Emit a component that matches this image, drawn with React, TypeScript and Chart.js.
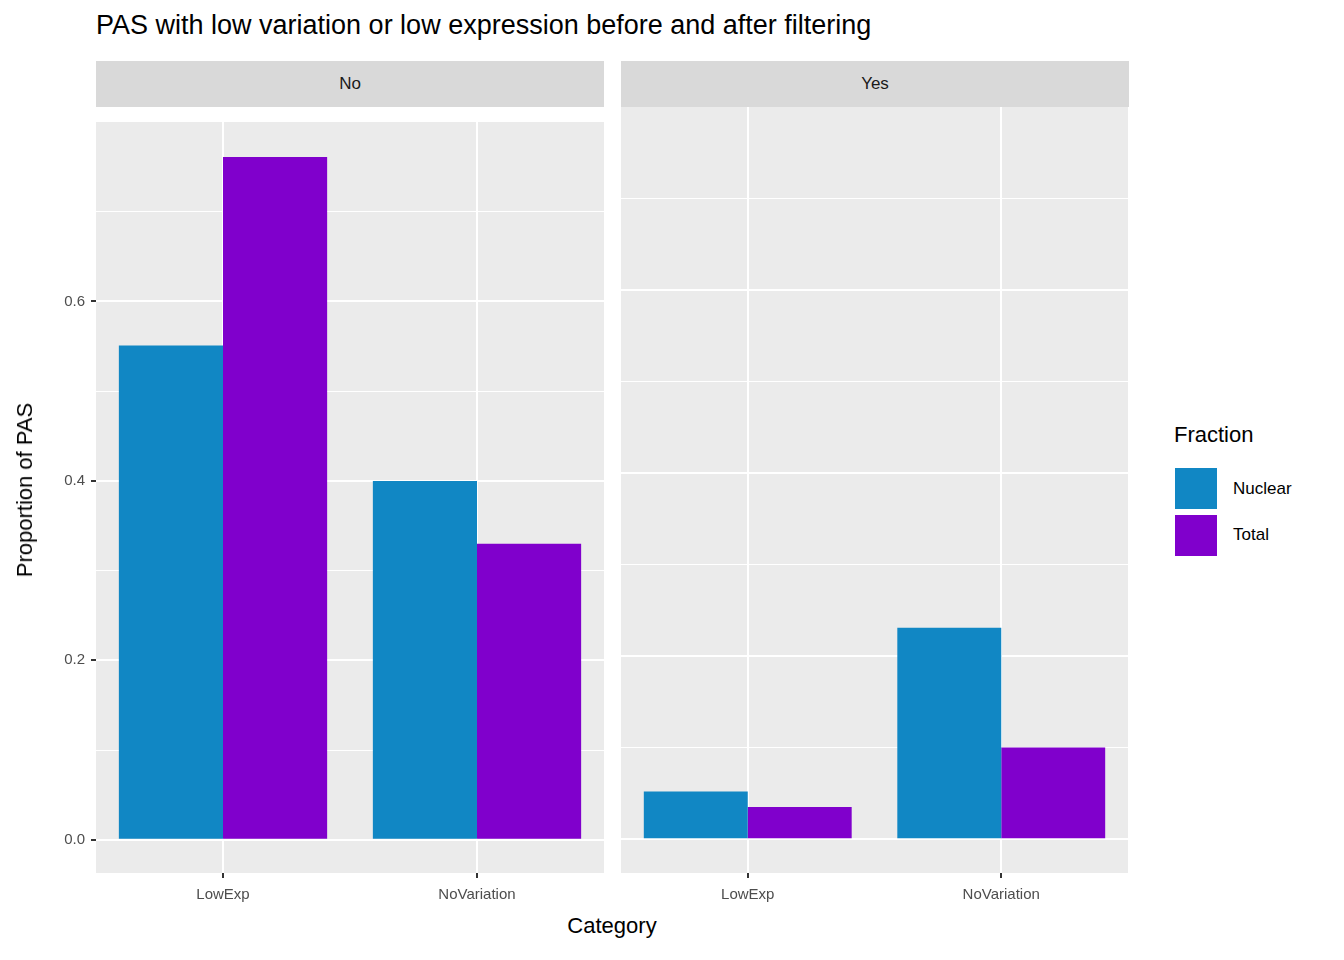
import React, { useEffect, useRef } from 'react';
import { Chart, registerables } from 'chart.js';

Chart.register(...registerables);

const categories = ['LowExp', 'NoVariation'];
const facets = ['No', 'Yes'];
const nuclearNo = [0.551, 0.4];
const totalNo = [0.761, 0.33];
const nuclearYes = [0.052, 0.231];
const totalYes = [0.035, 0.1];
const yTicks = [0, 0.2, 0.4, 0.6];
const nuclearColor = '#1187C4';
const totalColor = '#8000CC';
const FONT = '"Liberation Sans", Arial, sans-serif';

const panelBg = {
    id: 'panelBg',
    beforeDraw(chart: Chart) {
        const { ctx, chartArea } = chart;
        ctx.save();
        ctx.fillStyle = '#EBEBEB';
        ctx.fillRect(chartArea.left, chartArea.top, chartArea.right - chartArea.left, chartArea.bottom - chartArea.top);
        ctx.restore();
    },
};

function makeConfig(nuc: number[], tot: number[], showY: boolean, yWidth: number): any {
    return {
        type: 'bar',
        data: {
            labels: categories,
            datasets: [
                { label: 'Nuclear', data: nuc, backgroundColor: nuclearColor, categoryPercentage: 0.82, barPercentage: 1 },
                { label: 'Total', data: tot, backgroundColor: totalColor, categoryPercentage: 0.82, barPercentage: 1 },
            ],
        },
        options: {
            animation: false,
            responsive: false,
            maintainAspectRatio: false,
            layout: { padding: 0 },
            plugins: { legend: { display: false }, tooltip: { enabled: false } },
            scales: {
                x: {
                    grid: { offset: false, color: '#FFFFFF', lineWidth: 2, tickColor: '#333333', tickLength: 5 },
                    border: { display: false },
                    ticks: { color: '#4D4D4D', font: { family: FONT, size: 15 }, padding: 8 },
                    afterFit: (s: any) => { s.height = 40; },
                },
                y: {
                    min: -0.037,
                    max: 0.8,
                    afterBuildTicks: (s: any) => {
                        const t = [];
                        for (let i = 0; i <= 7; i++) t.push({ value: i / 10 });
                        s.ticks = t;
                    },
                    grid: {
                        color: '#FFFFFF',
                        lineWidth: (c: any) => (yTicks.some(v => Math.abs(v - c.tick?.value) < 1e-6) ? 2 : 1),
                        tickColor: (c: any) => (showY && yTicks.some(v => Math.abs(v - c.tick?.value) < 1e-6) ? '#333333' : 'rgba(0,0,0,0)'),
                        tickLength: 5,
                    },
                    border: { display: false },
                    ticks: {
                        display: showY,
                        color: '#4D4D4D',
                        font: { family: FONT, size: 15 },
                        padding: 6,
                        callback: (v: number) => (yTicks.some(t => Math.abs(t - v) < 1e-6) ? v.toFixed(1) : ''),
                    },
                    afterFit: (s: any) => { s.width = yWidth; },
                },
            },
        },
        plugins: [panelBg],
    };
}

const Panel: React.FC<{ nuc: number[]; tot: number[]; showY: boolean; left: number; width: number; yWidth: number }> = ({ nuc, tot, showY, left, width, yWidth }) => {
    const ref = useRef<HTMLCanvasElement | null>(null);
    useEffect(() => {
        if (!ref.current) return;
        const chart = new Chart(ref.current, makeConfig(nuc, tot, showY, yWidth));
        return () => chart.destroy();
    }, []);
    return <canvas ref={ref} width={width} height={806} style={{ position: 'absolute', left, top: 107, width, height: 806 }} />;
};

const App: React.FC = () => {
    const strip = (left: number, text: string) => (
        <div style={{ position: 'absolute', left, top: 61, width: 508, height: 46, background: '#D9D9D9', color: '#1A1A1A', fontSize: 17, lineHeight: '46px', textAlign: 'center' }}>{text}</div>
    );
    return (
        <div style={{ position: 'relative', width: 1344, height: 960, margin: -8, background: '#FFFFFF', fontFamily: FONT, overflow: 'hidden' }}>
            <div style={{ position: 'absolute', left: 96, top: 10, fontSize: 27, color: '#000' }}>PAS with low variation or low expression before and after filtering</div>
            {strip(96, facets[0])}
            {strip(621, facets[1])}
            <Panel nuc={nuclearNo} tot={totalNo} showY={true} left={36} width={568} yWidth={60} />
            <Panel nuc={nuclearYes} tot={totalYes} showY={false} left={621} width={507} yWidth={0} />
            <div style={{ position: 'absolute', left: 96, width: 1032, top: 913, textAlign: 'center', fontSize: 22 }}>Category</div>
            <div style={{ position: 'absolute', left: 25, top: 490, transform: 'translate(-50%, -50%) rotate(-90deg)', fontSize: 22, whiteSpace: 'nowrap' }}>Proportion of PAS</div>
            <div style={{ position: 'absolute', left: 1174, top: 422, fontSize: 22 }}>Fraction</div>
            <div style={{ position: 'absolute', left: 1175, top: 468, width: 42, height: 41, background: nuclearColor }} />
            <div style={{ position: 'absolute', left: 1175, top: 515, width: 42, height: 41, background: totalColor }} />
            <div style={{ position: 'absolute', left: 1233, top: 479, fontSize: 17 }}>Nuclear</div>
            <div style={{ position: 'absolute', left: 1233, top: 525, fontSize: 17 }}>Total</div>
        </div>
    );
};

export default App;
